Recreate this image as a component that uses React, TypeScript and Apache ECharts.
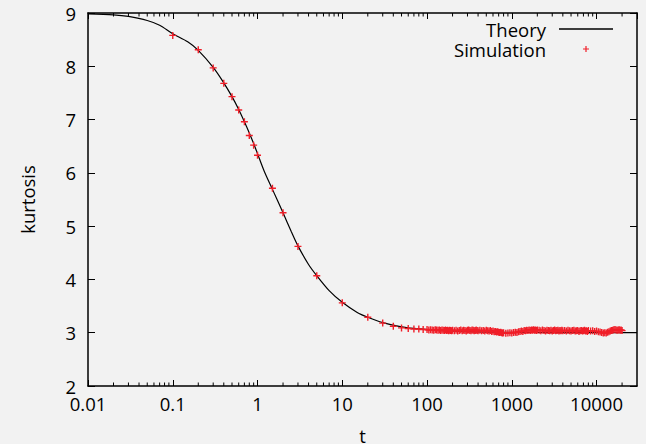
import React, { useEffect, useRef } from "react";
import * as echarts from "echarts";

// Theory curve
const theoryT = [0.01, 0.02, 0.03, 0.05, 0.07, 0.1, 0.15, 0.2, 0.3, 0.4, 0.5, 0.6, 0.7, 0.8, 0.9, 1, 1.2, 1.5, 2, 2.5, 3, 4, 5, 7, 10, 15, 20, 30, 50, 70, 100, 200, 500, 1000, 3000, 10000, 30000];
const theoryK = [8.985, 8.965, 8.935, 8.86, 8.77, 8.61, 8.46, 8.3, 7.98, 7.69, 7.43, 7.19, 6.96, 6.75, 6.55, 6.36, 6.03, 5.69, 5.25, 4.9, 4.63, 4.28, 4.07, 3.79, 3.57, 3.38, 3.29, 3.19, 3.11, 3.08, 3.06, 3.03, 3.012, 3.006, 3.002, 3.001, 3.0];

// Simulation points
const simT = [
  0.1, 0.2, 0.3, 0.4, 0.5, 0.6, 0.7, 0.8, 0.9, 1, 1.5, 2, 3, 5, 10, 20, 30, 40, 50, 60, 70, 80, 90,
  100, 105, 110, 115, 120, 125, 130, 135, 140, 145, 150, 155, 160, 165, 170, 175, 180, 185, 190, 195, 200,
  210, 220, 230, 240, 250, 260, 270, 280, 290, 300, 310, 320, 330, 340, 350, 360, 370, 380, 390, 400,
  420, 440, 460, 480, 500, 520, 540, 560, 580, 600, 620, 640, 660, 680, 700, 720, 740, 760, 780, 800,
  850, 900, 950, 1000, 1050, 1100, 1150, 1200, 1250, 1300, 1350, 1400, 1450, 1500, 1550, 1600, 1650, 1700, 1750, 1800, 1850, 1900, 1950, 2000,
  2100, 2200, 2300, 2400, 2500, 2600, 2700, 2800, 2900, 3000, 3100, 3200, 3300, 3400, 3500, 3600, 3700, 3800, 3900, 4000,
  4200, 4400, 4600, 4800, 5000, 5200, 5400, 5600, 5800, 6000, 6200, 6400, 6600, 6800, 7000, 7200, 7400, 7600, 7800, 8000,
  8500, 9000, 9500, 10000, 10500, 11000, 11500, 12000, 12500, 13000, 13500, 14000, 14500, 15000, 15500, 16000, 16500, 17000, 17500, 18000, 18500, 19000, 19500, 20000,
];
const simK = [
  8.58, 8.31, 7.97, 7.68, 7.43, 7.18, 6.96, 6.7, 6.52, 6.33, 5.71, 5.25, 4.62, 4.07, 3.56, 3.29, 3.18, 3.12, 3.09, 3.08, 3.07, 3.07, 3.06,
  3.06, 3.05, 3.055, 3.05, 3.045, 3.055, 3.05, 3.045, 3.05, 3.04, 3.05, 3.045, 3.04, 3.05, 3.04, 3.045, 3.035, 3.045, 3.04, 3.035, 3.045,
  3.035, 3.045, 3.03, 3.04, 3.05, 3.035, 3.045, 3.04, 3.03, 3.045, 3.05, 3.04, 3.035, 3.05, 3.045, 3.035, 3.04, 3.05, 3.04, 3.035,
  3.045, 3.035, 3.04, 3.03, 3.045, 3.035, 3.03, 3.04, 3.025, 3.03, 3.02, 3.025, 3.015, 3.02, 3.01, 3.005, 3.01, 3.0, 2.995, 3.0,
  2.99, 2.995, 3.0, 2.995, 3.005, 3.01, 3.005, 3.02, 3.025, 3.03, 3.025, 3.04, 3.035, 3.045, 3.04, 3.05, 3.04, 3.05, 3.045, 3.055, 3.045, 3.05, 3.04, 3.05,
  3.045, 3.035, 3.05, 3.04, 3.03, 3.045, 3.04, 3.035, 3.045, 3.03, 3.04, 3.05, 3.035, 3.04, 3.045, 3.03, 3.04, 3.035, 3.045, 3.035,
  3.04, 3.03, 3.045, 3.035, 3.03, 3.04, 3.045, 3.03, 3.035, 3.04, 3.025, 3.035, 3.04, 3.03, 3.035, 3.045, 3.03, 3.035, 3.025, 3.04,
  3.03, 3.035, 3.025, 3.03, 3.02, 3.015, 3.005, 2.995, 3.0, 2.995, 3.01, 3.02, 3.03, 3.04, 3.045, 3.055, 3.06, 3.05, 3.045, 3.05, 3.055, 3.045, 3.05, 3.04,
];

// Axis ticks
const xTickValues = [0.01, 0.1, 1, 10, 100, 1000, 10000];
const xTickLabels = ["0.01", "0.1", "1", "10", "100", "1000", "10000"];
const xMinorTicks = [
  0.02, 0.03, 0.04, 0.05, 0.06, 0.07, 0.08, 0.09,
  0.2, 0.3, 0.4, 0.5, 0.6, 0.7, 0.8, 0.9,
  2, 3, 4, 5, 6, 7, 8, 9,
  20, 30, 40, 50, 60, 70, 80, 90,
  200, 300, 400, 500, 600, 700, 800, 900,
  2000, 3000, 4000, 5000, 6000, 7000, 8000, 9000,
  20000,
];
const yMin = 2;
const yMax = 9;

const FONT = "Open Sans";
const PLUS = "path://M4,0H6V4H10V6H6V10H4V6H0V4H4Z";
const LINE_ICON = "path://M0,0H100V2.4H0Z";

export default function App() {
  const ref = useRef<HTMLDivElement>(null);
  useEffect(() => {
    if (!ref.current) return;
    const chart = echarts.init(ref.current, undefined, { renderer: "svg" });
    const axisLine = { show: true, onZero: false, lineStyle: { color: "#000", width: 1.5 } };
    const labelFormatter = (v: number) => {
      for (let i = 0; i < xTickValues.length; i++) {
        if (Math.abs(Math.log10(v) - Math.log10(xTickValues[i])) < 1e-6) return xTickLabels[i];
      }
      return "";
    };
    const option: any = {
      animation: false,
      backgroundColor: "#f2f2f2",
      grid: { left: 88, right: 9, top: 13, bottom: 58, containLabel: false, outerBoundsMode: "none" },
      legend: {
        orient: "vertical",
        right: 33,
        top: 19,
        padding: 0,
        align: "right",
        itemWidth: 54,
        itemHeight: 6,
        itemGap: 0,
        textStyle: { fontFamily: FONT, fontSize: 18.5, color: "#000", lineHeight: 20, padding: [0, 8, 0, 0] },
        data: [{ name: "Theory", icon: LINE_ICON }, { name: "Simulation", icon: PLUS }],
      },
      xAxis: [
        {
          type: "log",
          logBase: 10,
          min: 0.01,
          max: 30000,
          position: "bottom",
          axisLine,
          axisTick: { inside: true, length: 6, lineStyle: { color: "#000", width: 1 } },
          axisLabel: { formatter: labelFormatter, margin: 8, fontFamily: FONT, fontSize: 18.5, color: "#000", showMaxLabel: false },
          splitLine: { show: false },
          name: "t",
          nameLocation: "middle",
          nameGap: 40,
          nameTextStyle: { fontFamily: FONT, fontSize: 18.5, color: "#000" },
        },
        {
          type: "log",
          logBase: 10,
          min: 0.01,
          max: 30000,
          position: "top",
          axisLine,
          axisTick: { inside: true, length: 6, lineStyle: { color: "#000", width: 1 } },
          axisLabel: { show: false },
          splitLine: { show: false },
        },
      ],
      yAxis: [
        {
          type: "value",
          min: yMin,
          max: yMax,
          interval: 1,
          position: "left",
          axisLine,
          axisTick: { inside: true, length: 7, lineStyle: { color: "#000", width: 1 } },
          axisLabel: { margin: 12, fontFamily: FONT, fontSize: 18.5, color: "#000" },
          splitLine: { show: false },
          name: "kurtosis",
          nameLocation: "middle",
          nameRotate: 90,
          nameGap: 51,
          nameTextStyle: { fontFamily: FONT, fontSize: 18.5, color: "#000" },
        },
        {
          type: "value",
          min: yMin,
          max: yMax,
          interval: 1,
          position: "right",
          axisLine,
          axisTick: { inside: true, length: 7, lineStyle: { color: "#000", width: 1 } },
          axisLabel: { show: false },
          splitLine: { show: false },
        },
      ],
      series: [
        {
          name: "Theory",
          type: "line",
          data: theoryT.map((t, i) => [t, theoryK[i]]),
          symbol: "none",
          showSymbol: false,
          smooth: 0.3,
          lineStyle: { color: "#000", width: 1.2 },
          itemStyle: { color: "#000" },
          z: 2,
        },
        {
          name: "Simulation",
          type: "scatter",
          data: simT.map((t, i) => [t, simK[i]]),
          symbol: PLUS,
          symbolSize: 7,
          itemStyle: { color: "#f01e28", opacity: 1 },
          z: 3,
        },
        {
          type: "custom",
          silent: true,
          clip: false,
          data: xMinorTicks.map((t) => [t, yMin]),
          encode: { x: 0, y: 1 },
          renderItem: (_p: any, api: any) => {
            const t = api.value(0);
            const b = api.coord([t, yMin]);
            const tp = api.coord([t, yMax]);
            const st = { stroke: "#000", lineWidth: 1 };
            return {
              type: "group",
              children: [
                { type: "line", shape: { x1: b[0], y1: b[1], x2: b[0], y2: b[1] - 3.5 }, style: st },
                { type: "line", shape: { x1: tp[0], y1: tp[1], x2: tp[0], y2: tp[1] + 3.5 }, style: st },
              ],
            };
          },
          z: 4,
        },
      ],
    };
    chart.setOption(option);
    return () => chart.dispose();
  }, []);
  return <div ref={ref} style={{ position: "fixed", left: 0, top: 0, width: 646, height: 444 }} />;
}
